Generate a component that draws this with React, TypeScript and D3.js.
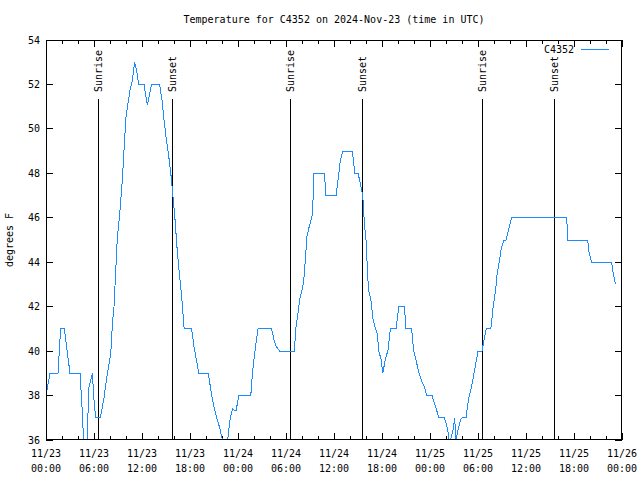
import React from "react";
import * as d3 from "d3";

const title = "Temperature for C4352 on 2024-Nov-23 (time in UTC)";
const seriesName = "C4352";
const yLabel = "degrees F";
const startIso = "2024-11-23T00:00:00Z";
const endIso = "2024-11-26T00:00:00Z";

// hours since 2024-11-23 00:00 UTC
const hours = [
  0, 0.5, 1.5, 1.83, 2.3, 3.0, 4.25, 4.5, 4.75, 5.05, 5.15, 5.375, 5.8, 6.0, 6.2, 6.8,
  7.25, 7.67, 8.1, 8.3, 8.5, 8.7, 8.9, 9.25, 9.54, 9.75, 10, 10.25, 10.5, 10.8, 11.08,
  11.33, 11.6, 12.25, 12.67, 13.2, 14.2, 14.5, 14.75, 15, 15.3, 15.6, 15.8, 16.1, 16.4,
  16.67, 16.96, 17.25, 17.3, 18.2, 18.5, 18.8, 19.1, 20.3, 20.6, 20.9, 21.3, 21.75,
  22.05, 22.3, 22.6, 22.7, 23, 23.3, 23.75, 24.1, 25.6, 25.8, 26.04, 26.3, 26.5, 28.2,
  28.5, 28.8, 29.2, 31.04, 31.25, 31.5, 31.7, 32.1, 32.3, 32.5, 32.6, 32.9, 33.25, 33.4,
  33.5, 34.8, 35.0, 36.25, 36.5, 36.8, 37.1, 38.3, 38.6, 39.0, 39.3, 39.6, 39.8, 40.0,
  40.2, 40.3, 40.7, 40.8, 41.1, 41.4, 41.6, 41.9, 42.1, 42.4, 42.75, 43.04, 43.75, 44.1,
  44.8, 45.0, 45.7, 45.96, 46.25, 46.6, 46.9, 47.3, 47.6, 48.25, 48.7, 49.1, 49.8, 50.2,
  50.4, 50.5, 50.9, 51.1, 51.2, 51.5, 51.8, 52.04, 52.5, 52.8, 53.2, 53.5, 53.8, 54.0,
  54.5, 54.75, 55.04, 55.6, 55.9, 56.2, 56.4, 56.7, 56.9, 57.25, 57.5, 57.8, 58.2, 65.1,
  65.2, 67.7, 67.9, 68.2, 70.7, 70.9, 71.2,
];
const temps = [
  38, 39, 39, 41, 41, 39, 39, 37.5, 35.6, 35.6, 36.2, 38.4, 39, 37.8, 37, 37,
  37.9, 39, 39.9, 41.25, 42, 43.5, 45, 46.35, 47.7, 49.05, 50.55, 51.15, 51.75, 52.2, 53.0,
  52.6, 52, 52, 51.07, 52, 52, 51.3, 50.4, 49.65, 48.9, 48.0, 47.25, 46.05, 44.55,
  43.5, 42.45, 41.1, 41, 41, 40.2, 39.6, 39, 39, 38.25, 37.65, 37.05, 36.5,
  36, 35.7, 35.7, 36, 36.9, 37.4, 37.3, 38, 38, 39, 39.75, 40.5, 41, 41,
  40.5, 40.2, 40, 40, 41.1, 41.7, 42.3, 42.9, 43.5, 44.55, 45.15, 45.6, 46.05, 46.95,
  48, 48, 47, 47, 47.7, 48.6, 49, 49, 48, 48, 47.55, 46.95, 45.75, 45,
  43.5, 42.8, 42.15, 41.55, 41.1, 40.8, 40, 39.6, 39, 39.6, 40.05, 41, 41, 42,
  42, 41, 41, 40, 39.6, 39.05, 38.7, 38.4, 38, 38, 37.5, 37, 37, 36.5,
  36, 35.9, 36.5, 37, 35.9, 36.45, 36.9, 37, 37, 37.8, 38.4, 39, 39.6, 40,
  40, 40.5, 41, 41, 42, 42.75, 43.5, 44.1, 44.6, 45, 45, 45.45, 46, 46,
  45, 45, 44.4, 44, 44, 43.5, 43,
];
const sunriseHours = [6.54, 30.54, 54.5];
const sunsetHours = [15.7, 39.5, 63.5];
const yTicks = [36, 38, 40, 42, 44, 46, 48, 50, 52, 54];

const W = 640, H = 480;
const L = 46, R = 622, T = 40, B = 440;
const FONT = "'DejaVu Sans Mono', monospace";
const LINE_COLOR = "#1a8cff";

export default function App() {
  const t0 = new Date(startIso).getTime();
  const toDate = (h: number) => new Date(t0 + h * 3600e3);
  const x = d3.scaleUtc().domain([new Date(startIso), new Date(endIso)]).range([L, R]);
  const y = d3.scaleLinear().domain([36, 54]).range([B, T]);

  const data = hours.map((h, i) => ({ t: toDate(h), v: temps[i] }));
  const line = d3
    .line<{ t: Date; v: number }>()
    .x((d) => x(d.t))
    .y((d) => y(d.v));

  const majorTicks = x.ticks(d3.utcHour.every(6)!);
  const minorTicks = x.ticks(d3.utcHour.every(2)!).filter((d) => d.getUTCHours() % 6 !== 0);
  const fmtDate = d3.utcFormat("%m/%d");
  const fmtTime = d3.utcFormat("%H:%M");

  const events = [
    ...sunriseHours.map((h) => ({ h, label: "Sunrise" })),
    ...sunsetHours.map((h) => ({ h, label: "Sunset" })),
  ];

  const majLen = 7, minLen = 4, yLen = 7;

  return (
    <svg
      width={W}
      height={H}
      style={{ position: "absolute", left: 0, top: 0, background: "#fff" }}
      fontFamily={FONT}
      fontSize={10}
    >
      <defs>
        <clipPath id="plotclip">
          <rect x={L} y={T} width={R - L} height={B - T} />
        </clipPath>
      </defs>
      <rect x={0} y={0} width={W} height={H} fill="#fff" />
      <text x={(L + R) / 2} y={23} textAnchor="middle" fill="#000">
        {title}
      </text>
      <text
        transform={`translate(13,${(T + B) / 2}) rotate(-90)`}
        textAnchor="middle"
        fill="#000"
      >
        {yLabel}
      </text>

      {/* y ticks */}
      {yTicks.map((v) => (
        <g key={"y" + v}>
          <line x1={L} x2={L + yLen} y1={y(v)} y2={y(v)} stroke="#000" shapeRendering="crispEdges" />
          <line x1={R} x2={R - yLen} y1={y(v)} y2={y(v)} stroke="#000" shapeRendering="crispEdges" />
          <text x={40} y={y(v)} dy="0.35em" textAnchor="end" fill="#000">
            {v}
          </text>
        </g>
      ))}

      {/* x ticks */}
      {majorTicks.map((d) => (
        <g key={"x" + d.getTime()}>
          <line x1={x(d)} x2={x(d)} y1={B} y2={B - majLen} stroke="#000" shapeRendering="crispEdges" />
          <line x1={x(d)} x2={x(d)} y1={T} y2={T + majLen} stroke="#000" shapeRendering="crispEdges" />
          <text x={x(d)} y={457} textAnchor="middle" fill="#000">
            {fmtDate(d)}
          </text>
          <text x={x(d)} y={472} textAnchor="middle" fill="#000">
            {fmtTime(d)}
          </text>
        </g>
      ))}
      {minorTicks.map((d) => (
        <g key={"m" + d.getTime()}>
          <line x1={x(d)} x2={x(d)} y1={B} y2={B - minLen} stroke="#000" shapeRendering="crispEdges" />
          <line x1={x(d)} x2={x(d)} y1={T} y2={T + minLen} stroke="#000" shapeRendering="crispEdges" />
        </g>
      ))}

      {/* sunrise / sunset */}
      {events.map((e) => {
        const ex = Math.round(x(toDate(e.h))) + 0.5;
        return (
          <g key={e.label + e.h}>
            <line x1={ex} x2={ex} y1={B} y2={99} stroke="#000" strokeWidth={1} shapeRendering="crispEdges" />
            <text
              transform={`translate(${ex},92) rotate(-90)`}
              dy="0.35em"
              textAnchor="start"
              fill="#000"
            >
              {e.label}
            </text>
          </g>
        );
      })}

      {/* data line */}
      <path
        d={line(data) || ""}
        fill="none"
        stroke={LINE_COLOR}
        strokeWidth={1}
        clipPath="url(#plotclip)"
        shapeRendering="crispEdges"
      />

      {/* legend */}
      <text x={574} y={49} dy="0.35em" textAnchor="end" fill="#000">
        {seriesName}
      </text>
      <line x1={581} x2={609} y1={49.5} y2={49.5} stroke={LINE_COLOR} strokeWidth={1} />

      {/* frame */}
      <rect x={L + 0.5} y={T + 0.5} width={R - L - 1} height={B - T - 1} fill="none" stroke="#000" shapeRendering="crispEdges" />
    </svg>
  );
}
